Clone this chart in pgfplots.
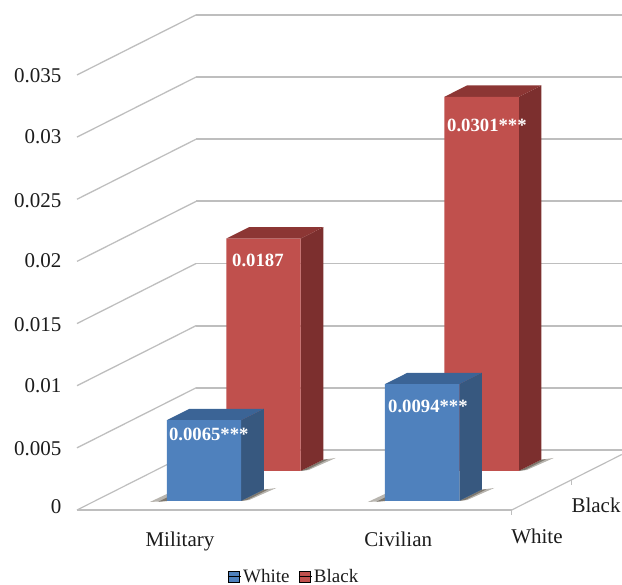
\documentclass[border=0pt]{standalone}
\usepackage{fontspec}
\setmainfont{Liberation Serif}
\usepackage{pgfplots}
\pgfplotsset{compat=1.18}
\definecolor{wallline}{HTML}{BEBEBE}
\definecolor{bluefront}{HTML}{4F81BD}
\definecolor{blueside}{HTML}{37587F}
\definecolor{bluetop}{HTML}{3B6496}
\definecolor{redfront}{HTML}{C0504D}
\definecolor{redside}{HTML}{7C2F2E}
\definecolor{redtop}{HTML}{8C3634}
\definecolor{ink}{HTML}{1C1C1C}
\definecolor{floorshade}{HTML}{4E4638}

% One three-dimensional column: left edge, front depth, value, face colours
\newcommand{\column}[6]{%
  \pgfmathsetmacro{\xa}{#1}%
  \pgfmathsetmacro{\xb}{#1+74.4}%
  \pgfmathsetmacro{\da}{#2}%
  \pgfmathsetmacro{\db}{#2+0.19}%
  \pgfmathsetmacro{\sa}{#1-15}%
  \pgfmathsetmacro{\sb}{#1-13.9}%
  \pgfmathsetmacro{\sc}{#1+83.6}%
  \pgfmathsetmacro{\sd}{#1+80.4}%
  \pgfmathsetmacro{\ta}{#1-7}%
  \pgfmathsetmacro{\tb}{#1+78.4}%
  \pgfmathsetmacro{\ea}{#2-0.017}%
  \pgfmathsetmacro{\eb}{#2+0.117}%
  \pgfmathsetmacro{\ec}{#2+0.217}%
  \pgfmathsetmacro{\ed}{#2+0.017}%
  \pgfmathsetmacro{\eaa}{#2+0.06}%
  \pgfmathsetmacro{\ecc}{#2+0.195}%
  % cast shadow on the floor: a pale outer layer and a darker core
  \addplot3[fill=floorshade, fill opacity=0.4, draw=none, forget plot] coordinates {(\sa,\ea,0) (\sb,\eb,0) (\xa,\da,0) (\sa,\ea,0)};
  \addplot3[fill=floorshade, fill opacity=0.4, draw=none, forget plot] coordinates {(\xb,\da,0) (\xb,\db,0) (\sc,\ec,0) (\sd,\ed,0) (\xb,\da,0)};
  \addplot3[fill=floorshade, fill opacity=0.55, draw=none, forget plot] coordinates {(\ta,\ea,0) (\ta,\eaa,0) (\xa,\eb,0) (\xa,\da,0) (\ta,\ea,0)};
  \addplot3[fill=floorshade, fill opacity=0.55, draw=none, forget plot] coordinates {(\xb,\da,0) (\xb,\db,0) (\tb,\ecc,0) (\tb,\ed,0) (\xb,\da,0)};
  % side, top and front faces
  \addplot3[fill=#5, draw=none, forget plot] coordinates {(\xb,\da,0) (\xb,\db,0) (\xb,\db,#3) (\xb,\da,#3) (\xb,\da,0)};
  \addplot3[fill=#6, draw=none, forget plot] coordinates {(\xa,\da,#3) (\xb,\da,#3) (\xb,\db,#3) (\xa,\db,#3) (\xa,\da,#3)};
  \addplot3[fill=#4, draw=none, forget plot] coordinates {(\xa,\da,0) (\xb,\da,0) (\xb,\da,#3) (\xa,\da,#3) (\xa,\da,0)};
}

% One horizontal rule running along the side wall and the back wall
\newcommand{\wallrule}[1]{%
  \addplot3[wallline, line width=1.3pt, forget plot] coordinates {(77,0,#1) (77,1,#1)};
  \addplot3[wallline, line width=1.8pt, forget plot] coordinates {(77,1,#1) (503,1,#1)};
}

\begin{document}
\begin{tikzpicture}
\begin{axis}[
  x={(1pt,0pt)}, y={(119pt,60pt)}, z={(0pt,12430pt)},
  xmin=77, xmax=503, ymin=0, ymax=1, zmin=0, zmax=0.035,
  clip=false,
  axis line style={draw=none},
  tick style={draw=none},
  ztick={0,0.005,0.01,0.015,0.02,0.025,0.03,0.035},
  scaled z ticks=false,
  /pgf/number format/fixed,
  /pgf/number format/precision=3,
  /pgf/number format/assume math mode=true,
  zticklabel pos=left,
  xtick={180,397},
  xticklabels={Military,Civilian},
  ytick={0,0.5},
  yticklabels={White,Black},
  tick label style={font=\fontsize{21}{24}\selectfont, text=ink},
  z tick label style={xshift=-12pt, yshift=5.5pt},
  x tick label style={xshift=8pt, yshift=-18pt},
  y tick label style={xshift=18pt, yshift=-10pt, inner xsep=0pt},
  legend image code/.code={\fill[#1] (0pt,-5.5pt) rectangle (11pt,5.5pt); \path (0pt,0pt) -- (13pt,0pt);},
  legend style={draw=none, fill=none, font=\fontsize{19}{22}\selectfont, text=ink,
    inner ysep=0pt, nodes={inner ysep=0pt},
    at={(axis cs:294,0,-0.00535)}, anchor=center, legend columns=2,
    /tikz/every even column/.append style={column sep=7pt}},
  legend cell align=left,
]
  % walls
  \wallrule{0.005}
  \wallrule{0.01}
  \wallrule{0.015}
  \wallrule{0.02}
  \wallrule{0.025}
  \wallrule{0.03}
  \wallrule{0.035}
  % floor outline
  \addplot3[wallline, line width=1.8pt, forget plot] coordinates {(77,1,0) (503,1,0)};
  \addplot3[wallline, line width=1.2pt, forget plot] coordinates {(77,0,0) (77,1,0)};
  \addplot3[wallline, line width=2pt, forget plot] coordinates {(77,0,0) (511.7,0,0)};
  \addplot3[wallline, line width=1.2pt, forget plot] coordinates {(511.7,0,0) (511.7,0.925,0)};
  \addplot3[wallline, line width=1pt, forget plot] coordinates {(511.7,0,0) (511.7,0,-0.0004)};
  \addplot3[wallline, line width=1pt, forget plot] coordinates {(511.7,0.5,0) (511.7,0.5,-0.0004)};

  % columns, back row first
  \column{149}{0.65}{0.0187}{redfront}{redside}{redtop}
  \column{367}{0.65}{0.0301}{redfront}{redside}{redtop}
  \column{149}{0.15}{0.0065}{bluefront}{blueside}{bluetop}
  \column{367}{0.15}{0.0094}{bluefront}{blueside}{bluetop}

  % value labels on the front faces
  \node[anchor=west, inner sep=0pt, text=white, font=\fontsize{18.7}{20}\selectfont\bfseries] at (axis cs:151,0.15,0.00539) {0.0065***};
  \node[anchor=west, inner sep=0pt, text=white, font=\fontsize{18.7}{20}\selectfont\bfseries] at (axis cs:154.65,0.65,0.01698) {0.0187};
  \node[anchor=west, inner sep=0pt, text=white, font=\fontsize{18.7}{20}\selectfont\bfseries] at (axis cs:370.15,0.15,0.0076) {0.0094***};
  \node[anchor=west, inner sep=0pt, text=white, font=\fontsize{18.7}{20}\selectfont\bfseries] at (axis cs:369.65,0.65,0.0278) {0.0301***};

  \addlegendimage{fill=bluefront}
  \addlegendentry{White}
  \addlegendimage{fill=redfront}
  \addlegendentry{Black}

  % page corners
  \coordinate (pageSW) at (axis cs:0,0,-0.00603);
  \coordinate (pageNE) at (axis cs:622,0,0.04103);
\end{axis}
\pgfresetboundingbox
\useasboundingbox (pageSW) rectangle (pageNE);
\end{tikzpicture}
\end{document}
